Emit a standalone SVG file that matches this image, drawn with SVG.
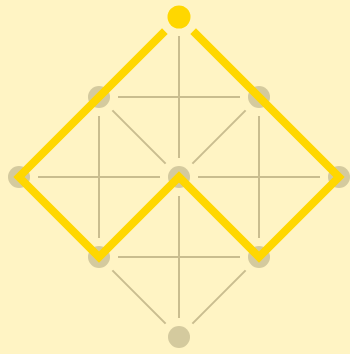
<svg xmlns="http://www.w3.org/2000/svg" width="350" height="354" viewBox="0 0 350 354">
<style>
.edge{stroke:#c9bd8f;stroke-width:2;fill:none}
.node{fill:#d4ca9e}
.active{fill:#ffd700}
.path{stroke:#ffd700;stroke-width:8;fill:none;stroke-linejoin:miter;stroke-linecap:butt}
</style>
<rect width="350" height="354" fill="#fff4c4"/>
<g id="connectors">
<line class="edge" x1="179" y1="36" x2="179" y2="158"/>
<line class="edge" x1="118" y1="97" x2="240" y2="97"/>
<line class="edge" x1="99" y1="116" x2="99" y2="238"/>
<line class="edge" x1="38" y1="177" x2="160" y2="177"/>
<line class="edge" x1="259" y1="116" x2="259" y2="238"/>
<line class="edge" x1="198" y1="177" x2="320" y2="177"/>
<line class="edge" x1="179" y1="196" x2="179" y2="318"/>
<line class="edge" x1="118" y1="257" x2="240" y2="257"/>
<line class="edge" x1="112.4" y1="110.4" x2="165.6" y2="163.6"/>
<line class="edge" x1="245.6" y1="110.4" x2="192.4" y2="163.6"/>
<line class="edge" x1="112.4" y1="270.4" x2="165.6" y2="323.6"/>
<line class="edge" x1="245.6" y1="270.4" x2="192.4" y2="323.6"/>
</g>
<g id="n-top"><circle class="active" cx="179" cy="17" r="11.5"/></g>
<g id="n-l1"><circle class="node" cx="99" cy="97" r="11"/></g>
<g id="n-r1"><circle class="node" cx="259" cy="97" r="11"/></g>
<g id="n-l2"><circle class="node" cx="19" cy="177" r="11"/></g>
<g id="n-c"><circle class="node" cx="179" cy="177" r="11"/></g>
<g id="n-r2"><circle class="node" cx="339" cy="177" r="11"/></g>
<g id="n-l3"><circle class="node" cx="99" cy="257" r="11"/></g>
<g id="n-r3"><circle class="node" cx="259" cy="257" r="11"/></g>
<g id="n-bottom"><circle class="node" cx="179" cy="337" r="11"/></g>
<g id="route"><path class="path" d="M164.86,31.14 L19,177 L99,257 L179,177 L259,257 L339,177 L193.14,31.14"/></g>
</svg>
